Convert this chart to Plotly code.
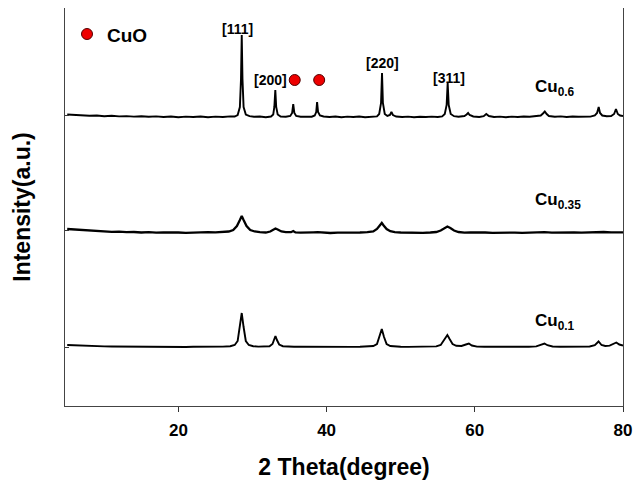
import plotly.graph_objects as go

# ---------------- data ----------------
# relative intensity above each pattern's own baseline (a.u.)
cu06_x = [5, 6, 7, 8, 9, 10, 11, 12, 13, 14, 15, 16, 17, 18, 19, 20, 21, 22, 23, 24, 25, 26, 27, 27.6,
          28.0, 28.3, 28.45, 28.55, 28.65, 28.8, 29.1, 29.6, 30.2, 31, 31.8, 32.5, 32.8, 32.95, 33.08, 33.2,
          33.4, 33.8, 34.5, 35.1, 35.35, 35.5, 35.65, 35.9, 36.5, 37.2, 38.0, 38.4, 38.6, 38.72, 38.85, 39.1,
          39.6, 40.4, 41.2, 42, 42.8, 43.6, 44.4, 45.2, 46, 46.8, 47.1, 47.35, 47.48, 47.6, 47.85, 48.2,
          48.55, 48.75, 48.95, 49.4, 50.2, 51, 51.8, 52.6, 53.4, 54.2, 55, 55.6, 55.95, 56.2, 56.34, 56.48,
          56.75, 57.2, 57.8, 58.6, 58.9, 59.1, 59.3, 59.8, 60.6, 61.2, 61.55, 61.9, 62.6, 63.4, 64.2, 65,
          65.8, 66.6, 67.4, 68.2, 68.9, 69.2, 69.45, 69.7, 70, 70.8, 71.6, 72.4, 73.2, 74, 74.8, 75.6, 76.2,
          76.5, 76.72, 76.9, 77.2, 77.8, 78.4, 78.8, 79.05, 79.3, 79.6, 80]
cu06_y = [2.5, 2, 1.8, 1.2, 1.5, 0.8, 1.2, 0.6, 0.9, 0.4, 0.8, 0.2, 0.6, 0, 0.5, -0.2, 0.4, 0, 0.5, -0.3, 0.4, 0, 0.6, 0.5,
          2, 10, 38, 82, 38, 10, 2.5, 0.8, 0.2, 0.5, -0.2, 0.5, 2.5, 10, 27, 10,
          2.5, 0.5, 0.3, 1, 4, 13, 4, 1, 0.2, 0.5, 0.3, 1.5, 5, 15, 5, 1.5,
          0.5, 0, 0.5, -0.2, 0.4, 0, 0.5, -0.2, 0.4, 0.6, 3, 14, 44, 14, 3, 1,
          2, 5, 2, 0.5, 0, 0.4, -0.2, 0.3, 0, 0.4, 0, 0.6, 3, 12, 34, 12,
          3, 0.8, 0.3, 1, 2.5, 4, 2, 0.5, 0, 0.8, 3, 1, 0, 0.4, -0.2, 0.4,
          0, 0.5, 0.2, 0.6, 1.5, 3.5, 5.5, 3, 1, 0.3, 0.6, 0, 0.5, 0.2, 0.6, 0.4, 1.5,
          4, 10, 4, 1.5, 0.8, 1, 3, 8, 3, 1.5, 1]

cu035_x = [5, 6, 7, 8, 9, 10, 11, 12, 13, 14, 15, 16, 17, 18, 19, 20, 21, 22, 23, 24, 25, 26, 26.8, 27.4,
           27.9, 28.3, 28.55, 28.8, 29.2, 29.7, 30.3, 31, 31.8, 32.4, 32.8, 33.1, 33.4, 33.9, 34.5, 35.2,
           35.5, 35.8, 36.5, 37.3, 38.2, 38.8, 39.6, 40.5, 41.5, 42.5, 43.5, 44.5, 45.5, 46.3, 46.8, 47.2,
           47.45, 47.7, 48.1, 48.6, 49.2, 50, 51, 52, 53, 54, 54.8, 55.4, 55.9, 56.3, 56.7, 57.2, 57.8, 58.6,
           59.4, 60.4, 61.4, 62.4, 63.4, 64.4, 65.4, 66.4, 67.4, 68.4, 69.4, 70.4, 71.4, 72.4, 73.4, 74.4,
           75.4, 76.4, 76.8, 77.4, 78.4, 79.2, 80]
cu035_y = [4, 3.5, 3, 2.5, 2, 1.8, 1.2, 1.4, 0.8, 1, 0.5, 0.8, 0.3, 0.6, 0.2, 0.5, 0.2, 0.6, 0.4, 0.8, 0.6, 1, 1.5, 3,
           7, 13, 17, 13, 7, 3, 1.5, 0.8, 0.5, 1.5, 3.5, 4.5, 3.5, 1.5, 0.8, 0.8,
           2, 0.6, 0.3, 0.2, 0.6, 0.8, 0.3, 0, 0.4, 0.2, 0.6, 0.5, 0.8, 1.5, 4, 7.5,
           10, 7.5, 4, 1.8, 0.8, 0.5, 0.2, 0.4, 0.2, 0.5, 1, 2.5, 5, 6.5, 5, 2.5, 1, 0.4,
           0.6, 0.2, 0.5, 0.2, 0.4, 0, 0.4, 0.2, 0.5, 0.3, 0.8, 0.3, 0.5, 0.2, 0.5, 0.3,
           0.6, 1, 1.5, 1, 0.6, 1, 0.7]

cu01_x = [5, 6, 7, 8, 9, 10, 11, 12, 13, 14, 15, 16, 17, 18, 19, 20, 21, 22, 23, 24, 25, 26, 27, 27.6,
          28.0, 28.3, 28.55, 28.8, 29.1, 29.5, 30.1, 30.8, 31.6, 32.3, 32.7, 32.95, 33.1, 33.3, 33.6, 34.1,
          34.8, 35.6, 36.5, 37.5, 38.5, 39.5, 40.5, 41.5, 42.5, 43.5, 44.5, 45.5, 46.3, 46.8, 47.15, 47.45,
          47.75, 48.1, 48.6, 49.2, 50, 51, 52, 53, 54, 54.8, 55.4, 55.9, 56.3, 56.6, 57, 57.5, 58.2, 58.8,
          59.2, 59.6, 60.3, 61.3, 62.3, 63.3, 64.3, 65.3, 66.3, 67.3, 68.3, 69, 69.4, 69.8, 70.5, 71.5, 72.5,
          73.5, 74.5, 75.5, 76.2, 76.7, 77.1, 77.6, 78.2, 78.7, 79.1, 79.5, 80]
cu01_y = [2, 1.6, 1.2, 1, 0.8, 0.6, 0.5, 0.4, 0.3, 0.4, 0.2, 0.3, 0.1, 0.2, 0, 0.2, 0, 0.2, 0.1, 0.3, 0.2, 0.4, 0.8, 2,
          6, 20, 34, 20, 6, 2, 0.8, 0.4, 0.3, 0.8, 3, 8, 11, 7, 2.5, 0.8,
          0.4, 0.3, 0.2, 0.1, 0.3, 0.1, 0.2, 0, 0.2, 0.1, 0.3, 0.4, 1, 3, 10, 18,
          10, 3, 1, 0.4, 0.2, 0.1, 0.2, 0.1, 0.3, 0.6, 2, 7, 12, 8, 3, 1.2, 1, 2.5,
          3.5, 1.5, 0.4, 0.2, 0.1, 0.2, 0, 0.2, 0.1, 0.3, 0.6, 2, 3.5, 1.8, 0.5, 0.2, 0.3,
          0.2, 0.3, 0.5, 1.8, 5.5, 2, 1, 1.4, 3, 4.5, 2.5, 1.5]

series_names = ["Cu<sub>0.6</sub>", "Cu<sub>0.35</sub>", "Cu<sub>0.1</sub>"]
offsets = [289, 173, 59]          # vertical stacking of the patterns
line_widths = [1.9, 2.3, 1.9]
x_ticks = [20, 40, 60, 80]
peak_labels = ["[111]", "[200]", "[220]", "[311]"]
peak_label_pos = [(28.0, 377), (32.4, 326), (47.5, 343), (56.5, 328)]
cuo_marks_x = [35.7, 39.0]
cuo_marks_y = [326, 326]

# ---------------- figure ----------------
fig = go.Figure()
for xs, ys, off, lw in [(cu06_x, cu06_y, offsets[0], line_widths[0]),
                        (cu035_x, cu035_y, offsets[1], line_widths[1]),
                        (cu01_x, cu01_y, offsets[2], line_widths[2])]:
    fig.add_trace(go.Scatter(x=xs, y=[v + off for v in ys], mode="lines",
                             line=dict(color="black", width=lw), showlegend=False, hoverinfo="skip"))

# CuO markers
fig.add_trace(go.Scatter(x=cuo_marks_x + [7.67], y=cuo_marks_y + [372], mode="markers",
                         marker=dict(color="#ee0000", size=11, line=dict(color="#550000", width=1)),
                         showlegend=False, hoverinfo="skip"))

font_b = "Liberation Sans, Arial, sans-serif"
for txt, (px, py) in zip(peak_labels, peak_label_pos):
    fig.add_annotation(x=px, y=py, text="<b>" + txt + "</b>", showarrow=False,
                       font=dict(family=font_b, size=14, color="black"))

fig.add_annotation(x=10.1, y=371, text="<b>CuO</b>", showarrow=False, xanchor="left",
                   font=dict(family=font_b, size=19, color="black"))

label_y = [318, 205, 84]
for name, ly in zip(series_names, label_y):
    fig.add_annotation(x=67.8, y=ly, text="<b>" + name + "</b>", showarrow=False, xanchor="left",
                       font=dict(family=font_b, size=17, color="black"))

# page has an 8px body margin: figure is shrunk so the plot lands where the reference has it
fig.update_layout(
    width=635, height=475,
    margin=dict(l=57, r=20, t=0, b=77, pad=0),
    paper_bgcolor="white", plot_bgcolor="white",
    font=dict(family=font_b, color="black"),
)
fig.update_xaxes(range=[4.7, 80], tickvals=x_ticks, ticktext=["<b>%d</b>" % t for t in x_ticks],
                 ticks="outside", ticklen=5, tickcolor="#333", tickfont=dict(size=17), ticklabelstandoff=4,
                 showline=True, linecolor="#444", linewidth=1, mirror=True, showgrid=False, zeroline=False,
                 automargin=False,
                 title=dict(text="<b>2 Theta(degree)</b>", font=dict(size=23), standoff=19))
fig.update_yaxes(range=[0, 398], tickvals=[291, 176, 59], ticktext=["", "", ""],
                 ticks="inside", ticklen=4, tickcolor="#333",
                 showline=True, linecolor="#444", linewidth=1, mirror=True, showgrid=False, zeroline=False,
                 automargin=False,
                 title=dict(text="<b>Intensity(a.u.)</b>", font=dict(size=23), standoff=24))

fig.write_html("out.html")
